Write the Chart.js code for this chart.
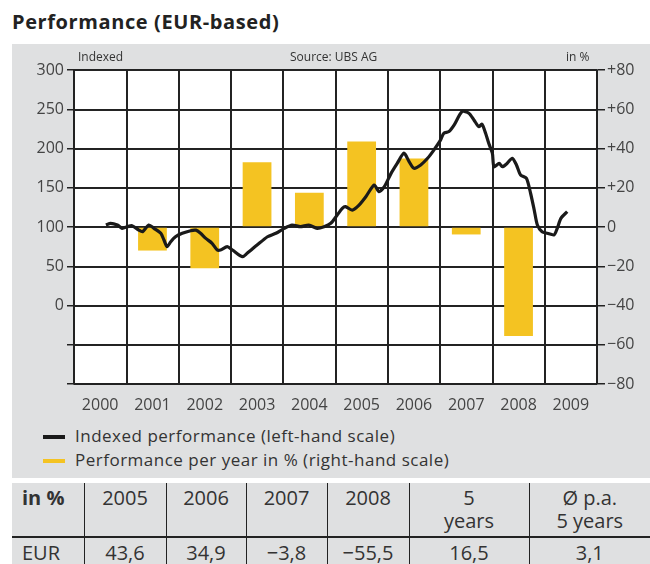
<!DOCTYPE html>
<html>
<head>
<meta charset="utf-8">
<script src="https://cdn.jsdelivr.net/npm/chart.js@4"></script>
<style>
  html, body { margin: 0; padding: 0; background: #fff; }
  body { width: 650px; height: 564px; position: relative; overflow: hidden; font-family: 'Open Sans', sans-serif; color: #333; }
  #title { position: absolute; left: 12px; top: 8px; font-size: 20px; letter-spacing: 0.6px; font-weight: 700; color: #222; line-height: 28px; }
  #panel { position: absolute; left: 12px; top: 44px; width: 638px; height: 434px; background: #dfe0e1; }
  #plot { position: absolute; left: 74px; top: 70px; width: 523px; height: 314px; background: #fff; }
  #gridBox { position: absolute; left: 12px; top: 44px; width: 638px; height: 376px; }
  #gridBox div { position: absolute; background: #262626; }
  #chartBox { position: absolute; left: 12px; top: 44px; width: 638px; height: 376px; }
  .note { position: absolute; top: 48px; font-size: 12px; color: #333; line-height: 17px; }
  .legend { position: absolute; left: 43px; font-size: 17px; letter-spacing: 0.5px; color: #333; line-height: 22px; }
  .legend i { display: inline-block; width: 22px; height: 4px; margin-right: 10px; vertical-align: middle; }
  table { position: absolute; left: 12px; top: 483px; width: 638px; border-collapse: collapse; background: #dfe0e1; font-size: 20px; color: #333; }
  td, th { font-weight: 400; text-align: center; vertical-align: top; border-left: 1.5px solid #222; padding: 0; line-height: 23px; }
  th { height: 54px; padding-top: 3px; box-sizing: border-box; border-bottom: 2px solid #222; }
  td { height: 27px; padding-top: 3px; }
  th:first-child, td:first-child { border-left: none; text-align: left; padding-left: 10px; }
  th:first-child { font-weight: 700; }
</style>
</head>
<body>
<div id="title">Performance (EUR-based)</div>
<div id="panel"></div>
<div id="plot"></div>
<div id="gridBox"></div>
<div id="chartBox"><canvas id="chart"></canvas></div>
<div class="note" style="left:78px">Indexed</div>
<div class="note" style="left:290px">Source: UBS AG</div>
<div class="note" style="left:566px">in %</div>
<div class="legend" style="top:425px"><i style="background:#1a1a1a"></i>Indexed performance (left-hand scale)</div>
<div class="legend" style="top:449px"><i style="background:#f4c322"></i>Performance per year in % (right-hand scale)</div>
<table>
  <tr><th style="width:72px">in %</th><th style="width:82px">2005</th><th style="width:80px">2006</th><th style="width:81px">2007</th><th style="width:82px">2008</th><th style="width:120px">5<br>years</th><th>Ø p.a.<br>5 years</th></tr>
  <tr><td>EUR</td><td>43,6</td><td>34,9</td><td>−3,8</td><td>−55,5</td><td>16,5</td><td>3,1</td></tr>
</table>
<script>
// categories on the x axis
const years = ['2000', '2001', '2002', '2003', '2004', '2005', '2006', '2007', '2008', '2009'];

// performance per year in % (right-hand scale)
const yearlyPerf = [null, -12, -21, 33, 17.5, 43.6, 34.9, -3.8, -55.5, null];

// indexed performance (left-hand scale); position: 2000 = middle of the 2000 column
const indexPos = [
  2000.11, 2000.20, 2000.33, 2000.42, 2000.52, 2000.61, 2000.74, 2000.81, 2000.93,
  2001.03, 2001.16, 2001.22, 2001.28, 2001.35, 2001.44, 2001.57, 2001.73, 2001.83, 2001.92,
  2002.02, 2002.14, 2002.24, 2002.30, 2002.43, 2002.53, 2002.72, 2002.81,
  2003.00, 2003.20, 2003.36, 2003.52, 2003.67, 2003.83, 2003.99,
  2004.15, 2004.28, 2004.41, 2004.53, 2004.63, 2004.69, 2004.82, 2004.95,
  2005.08, 2005.24, 2005.33, 2005.43, 2005.56, 2005.68, 2005.81, 2005.91,
  2006.00, 2006.13, 2006.26, 2006.38, 2006.51, 2006.57, 2006.67, 2006.77, 2006.92,
  2007.05, 2007.15, 2007.24, 2007.30, 2007.37, 2007.43, 2007.50, 2007.53, 2007.63, 2007.69, 2007.78, 2007.88, 2007.96,
  2008.04, 2008.15, 2008.23, 2008.30, 2008.36, 2008.45, 2008.55, 2008.68, 2008.74, 2008.81, 2008.93
];
const indexValues = [
  102.5, 104.7, 102.5, 98.3, 100.4, 101.7, 96, 94, 102.5,
  98.3, 92, 83.4, 75, 81.3, 87.6, 92, 95.3, 96, 92,
  85.5, 79.2, 70.7, 70.7, 75, 70.7, 62.2, 66.5,
  77, 87.6, 92, 98.3, 102.5, 100.4, 102.5,
  98.3, 100.4, 104.7, 115, 123.8, 126, 121.6, 128,
  138.6, 153.5, 145, 151, 168, 181, 194, 183,
  174.8, 179, 187.5, 198, 211, 219.4, 221.5, 230, 247,
  245, 236, 227.8, 231, 219.4, 206.6, 193.8, 176.8, 181, 176.8, 181, 187.5, 179,
  166.2, 162, 143, 121.6, 102.5, 94, 92, 90, 98.3, 111, 119.5
];

// tick labels
const leftTicks = ['300', '250', '200', '150', '100', '50', '0'];
const rightTick = v => v > 0 ? '+' + v : v < 0 ? '−' + Math.abs(v) : '0';

const GRID = '#222';
const TICK_FONT = { family: 'Open Sans', size: 16 };

const chart = new Chart(document.getElementById('chart'), {
  type: 'bar',
  data: {
    labels: years,
    datasets: [
      {
        type: 'line',
        label: 'Indexed performance (left-hand scale)',
        data: indexPos.map((p, i) => ({ x: p, y: indexValues[i] })),
        xAxisID: 'xL',
        yAxisID: 'y',
        borderColor: '#1a1a1a',
        borderWidth: 3.2,
        pointRadius: 0,
        tension: 0.25,
        order: 0
      },
      {
        label: 'Performance per year in % (right-hand scale)',
        data: yearlyPerf,
        xAxisID: 'x',
        yAxisID: 'yR',
        backgroundColor: '#f4c322',
        grouped: false,
        categoryPercentage: 1,
        barPercentage: 0.55,
        order: 1
      }
    ]
  },
  options: {
    responsive: true,
    maintainAspectRatio: false,
    animation: false,
    layout: { padding: { top: 26 } },
    plugins: { legend: { display: false }, tooltip: { enabled: false } },
    scales: {
      x: {
        type: 'category',
        offset: true,
        grid: { offset: true, color: GRID, lineWidth: 1.5, drawTicks: false },
        border: { color: GRID, width: 1.5 },
        ticks: { color: '#444', font: TICK_FONT, padding: 12, maxRotation: 0 },
        afterFit: s => { s.height = 36; }
      },
      xL: {
        type: 'linear',
        display: false,
        offset: false,
        grid: { offset: false },
        min: 1999.5,
        max: 2009.5
      },
      y: {
        type: 'linear',
        position: 'left',
        min: -100,
        max: 300,
        grid: { color: GRID, lineWidth: 1.5, tickLength: 7 },
        border: { color: GRID, width: 1.5 },
        ticks: {
          stepSize: 50,
          color: '#444',
          font: TICK_FONT,
          padding: 3,
          callback: v => leftTicks.includes(String(v)) ? String(v) : ''
        },
        afterFit: s => { s.width = 62; }
      },
      yR: {
        type: 'linear',
        position: 'right',
        min: -80,
        max: 80,
        grid: { drawOnChartArea: false, color: GRID, lineWidth: 1.5, tickLength: 8 },
        border: { color: GRID, width: 1.5 },
        ticks: { stepSize: 20, color: '#444', font: TICK_FONT, padding: 2, callback: rightTick },
        afterFit: s => { s.width = 53; }
      }
    }
  }
});

// grid behind the (transparent) canvas, placed from the chart's own scales
function layGrid() {
  const box = document.getElementById('gridBox');
  box.innerHTML = '';
  const xs = chart.scales.x, ys = chart.scales.y;
  const addLine = (l, t, w, h) => {
    const d = document.createElement('div');
    d.style.left = l + 'px';
    d.style.top = t + 'px';
    d.style.width = w + 'px';
    d.style.height = h + 'px';
    box.appendChild(d);
  };
  ys.ticks.forEach(t => {
    const py = Math.round(ys.getPixelForValue(t.value) - 0.75);
    addLine(xs.left, py, xs.right - xs.left, 2);
  });
  const half = (xs.getPixelForValue(1) - xs.getPixelForValue(0)) / 2;
  years.forEach((y, i) => {
    addLine(Math.round(xs.getPixelForValue(i) - half - 0.75), ys.top, 2, ys.bottom - ys.top);
  });
  addLine(Math.round(xs.getPixelForValue(years.length - 1) + half - 0.75), ys.top, 2, ys.bottom - ys.top);
}
layGrid();
</script>
</body>
</html>
